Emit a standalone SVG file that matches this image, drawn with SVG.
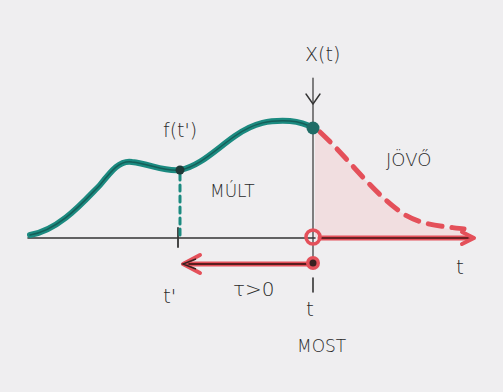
<svg xmlns="http://www.w3.org/2000/svg" width="503" height="392" viewBox="0 0 503 392">
<style>
.txt{font-family:"DejaVu Sans","Liberation Sans",sans-serif;fill:#2a2a2a;font-weight:300}
.ink{stroke:#333;fill:none;stroke-linecap:round;stroke-linejoin:round}
.red{stroke:#e4505a;fill:none;stroke-linecap:round;stroke-linejoin:round}
.teal{stroke:#1b8a80;fill:none;stroke-linecap:round;stroke-linejoin:round}
</style>
<rect x="0" y="0" width="503" height="392" fill="#efeef0"/>
<g id="future-area">
<path d="M315,130 C350,160 372,192 402,213 C422,226 442,228 464,231 L464,237 L315,237 Z" fill="#f5c9cc" opacity="0.45"/>
</g>
<g id="connectors">
<path class="ink" d="M28,238 L315,238" stroke-width="1.6"/>
<path class="ink" d="M313,78 L313,258" stroke-width="1.2"/>
<path class="ink" d="M306,94 L313,104 L320,94" stroke-width="1.4"/>
<path class="ink" d="M313,278 L313,292" stroke-width="1.6"/>
<path class="ink" d="M178,228 L178,247" stroke-width="1.8"/>
<path class="teal" d="M180,174 L180,236" stroke-width="3" stroke-dasharray="6 5"/>
<path class="red" d="M320,238 L470,238" stroke-width="5"/>
<path d="M320,238 L474,238" stroke="#6a2224" stroke-width="1.8" fill="none"/>
<path class="red" d="M462,232 L474,238 L462,244" stroke-width="4"/>
<path class="red" d="M313,264 L186,264" stroke-width="5"/>
<path d="M313,264 L183,264" stroke="#5a1c1e" stroke-width="2" fill="none"/>
<path class="red" d="M200,255 L183,264 L200,273" stroke-width="4"/>
<path d="M196,259 L183,264 L196,269" stroke="#3a2020" stroke-width="1.5" fill="none"/>
<path class="red" d="M320,132 C350,160 372,192 402,213 C422,226 442,226 464,229" stroke-width="5" stroke-dasharray="14 10"/>
</g>
<g id="past-curve">
<path d="M30,235 C60,230 85,200 100,185 C112,170 120,160 132,162 C150,164 165,172 180,170 C200,166 215,150 235,136 C255,122 270,120 290,121 C302,122 308,125 313,128" stroke="#1b8a80" stroke-width="6" fill="none" stroke-linecap="round"/>
<path d="M30,235 C60,230 85,200 100,185 C112,170 120,160 132,162 C150,164 165,172 180,170 C200,166 215,150 235,136 C255,122 270,120 290,121 C302,122 308,125 313,128" stroke="#145e58" stroke-width="1.5" fill="none" stroke-linecap="round"/>
</g>
<g id="points">
<circle cx="180" cy="170" r="4.5" fill="#1e3a38"/>
<circle cx="313" cy="128" r="6.5" fill="#1f6c66"/>
<circle cx="313" cy="237" r="7" fill="none" stroke="#e4505a" stroke-width="3.5"/>
<circle cx="313" cy="263" r="7" fill="#e4505a"/>
<circle cx="313" cy="263" r="3.5" fill="#3a2020"/>
</g>
<g id="labels">
<text class="txt" x="305" y="61" font-size="19">X(t)</text>
<text class="txt" x="163" y="137" font-size="19">f(t')</text>
<text class="txt" x="210" y="197" font-size="17">MÚLT</text>
<text class="txt" x="386" y="166" font-size="18">JÖVŐ</text>
<text class="txt" x="456" y="274" font-size="20">t</text>
<text class="txt" x="163" y="303" font-size="20">t'</text>
<text class="txt" x="233" y="296" font-size="20">τ&gt;0</text>
<text class="txt" x="306" y="316" font-size="20">t</text>
<text class="txt" x="297" y="352" font-size="17">MOST</text>
</g>
</svg>
